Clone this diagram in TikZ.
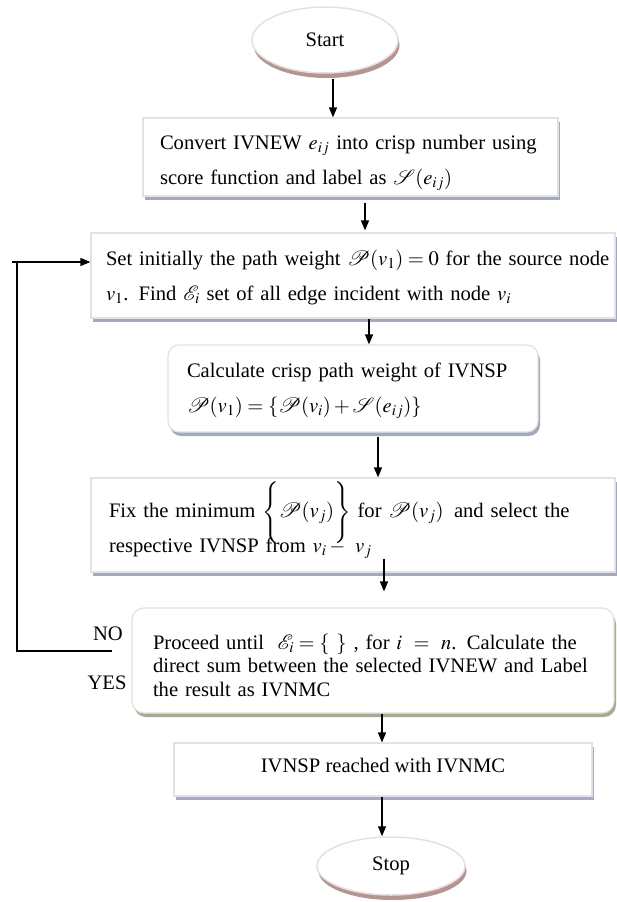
\documentclass[tikz,border=0pt]{standalone}
\usepackage{mathptmx}
\usepackage{mathrsfs}
\usepackage{fontspec}
\setmainfont{Liberation Serif}
\usetikzlibrary{arrows.meta,shapes.geometric,shadows,calc}
\definecolor{shbox}{HTML}{A2AABB}
\definecolor{shgreen}{HTML}{A6AD8E}
\definecolor{shpurple}{HTML}{ABA8C4}
\definecolor{shrose}{HTML}{B69491}
\definecolor{edgegray}{HTML}{E2E2E2}
\begin{document}
\begin{tikzpicture}[x=1pt,y=-1pt,
  txt/.style={font=\fontsize{20.6}{35}\selectfont},
  boxbase/.style={rectangle, fill=white, draw=edgegray, line width=1.2pt, inner ysep=0pt, align=left, txt},
  sbox/.style={boxbase, general shadow={fill=shbox, shadow xshift=2pt, shadow yshift=-4pt}},
  gbox/.style={boxbase, general shadow={fill=shgreen, shadow xshift=2pt, shadow yshift=-4pt}},
  pbox/.style={boxbase, general shadow={fill=shpurple, shadow xshift=2pt, shadow yshift=-4pt}},
  term/.style={ellipse, fill=white, draw=edgegray, line width=1.5pt, inner sep=0pt, txt,
    general shadow={fill=shrose, shadow xshift=1.5pt, shadow yshift=-5pt}},
  arr/.style={line width=1.3pt, -{Triangle[length=10pt,width=8pt]}},
  lbl/.style={txt, inner sep=0pt}
]
\useasboundingbox[fill=white] (0,0) rectangle (617,902);

% terminals
\node[term, minimum width=146pt, minimum height=66pt] (start) at (325,40) {Start};
\node[term, minimum width=148pt, minimum height=58pt] (stop) at (391,866) {Stop};

% boxes
\node[sbox, minimum width=415pt, minimum height=78pt, inner xsep=17pt, text width=381pt] (b1) at (350.5,157)
  {\rule{0pt}{26pt}\mbox{Convert IVNEW $e_{ij}$ into crisp number using}\\
   \mbox{score function and label as $\mathscr{S}(e_{ij})$}};

\node[sbox, minimum width=524pt, minimum height=85pt, inner xsep=15pt, text width=494pt] (b2) at (353,275.5)
  {\rule{0pt}{19pt}\mbox{Set initially the path weight $\mathscr{P}(v_1) = 0$ for the source node}\\
   \mbox{$v_1$. Find $\mathscr{E}_i$ set of all edge incident with node $v_i$}};

\node[sbox, rounded corners=11pt, minimum width=370pt, minimum height=87pt, inner xsep=19pt, text width=332pt] (b3) at (353,388.5)
  {\rule{0pt}{20pt}\mbox{Calculate crisp path weight of IVNSP}\\
   \mbox{$\mathscr{P}(v_1) = \{\mathscr{P}(v_i) + \mathscr{S}(e_{ij})\}$}};

\node[sbox, minimum width=524pt, minimum height=94pt, inner xsep=18pt, text width=488pt] (b4) at (353,525)
  {\rule{0pt}{27pt}\mbox{Fix the minimum $\smash{\Bigg\{}\mathscr{P}(v_j)\smash{\Bigg\}}$ for $\mathscr{P}(v_j)$\, and select the}\\
   \mbox{respective IVNSP from $v_i -\ v_j$}};

\node[gbox, rounded corners=12pt, minimum width=482pt, minimum height=105pt, inner xsep=21pt, text width=440pt,
  font=\fontsize{20.6}{23.5}\selectfont] (b5) at (373,660.5)
  {\rule{0pt}{25pt}\mbox{Proceed until \ $\mathscr{E}_i = \{\ \}$ , for $i\ =\ n$. Calculate the}\\
   \mbox{direct sum between the selected IVNEW and Label}\\
   \mbox{the result as IVNMC}};

\node[pbox, minimum width=418pt, minimum height=53pt, inner xsep=0pt, align=center] (b6) at (383,769.5)
  {IVNSP reached with IVNMC\rule[-8pt]{0pt}{8pt}};

% labels
\node[lbl] (no) at (108,634) {NO};
\node[lbl] (yes) at (107,683) {YES};

% arrow columns
\coordinate (c1) at (333,0);
\coordinate (c2) at (365,0);
\coordinate (c3) at (369,0);
\coordinate (c4) at (378,0);
\coordinate (c5) at (384,0);
\coordinate (c6) at (382,0);

\draw[arr, shorten <=5pt] (start.south -| c1) -- (b1.north -| c1);
\draw[arr, shorten <=6pt, shorten >=2pt] (b1.south -| c2) -- (b2.north -| c2);
\draw[arr] (b2.south -| c3) -- (b3.north -| c3);
\draw[arr, shorten <=4pt] (b3.south -| c4) -- (b4.north -| c4);
\draw[arr, shorten <=-14pt, shorten >=16pt] (b4.south -| c5) -- (b5.north -| c5);
\draw[arr] (b5.south -| c6) -- (b6.north -| c6);
\draw[arr] (b6.south -| c6) -- (stop.north -| c6);

% feedback loop
\coordinate (fb1) at (112,651);
\coordinate (fb2) at (17,262);
\coordinate (fb3) at (12,262);
\draw[line width=1.1pt] (fb1) -| (fb2);
\draw[arr] (fb3) -- (fb3 -| b2.west);
\end{tikzpicture}
\end{document}
